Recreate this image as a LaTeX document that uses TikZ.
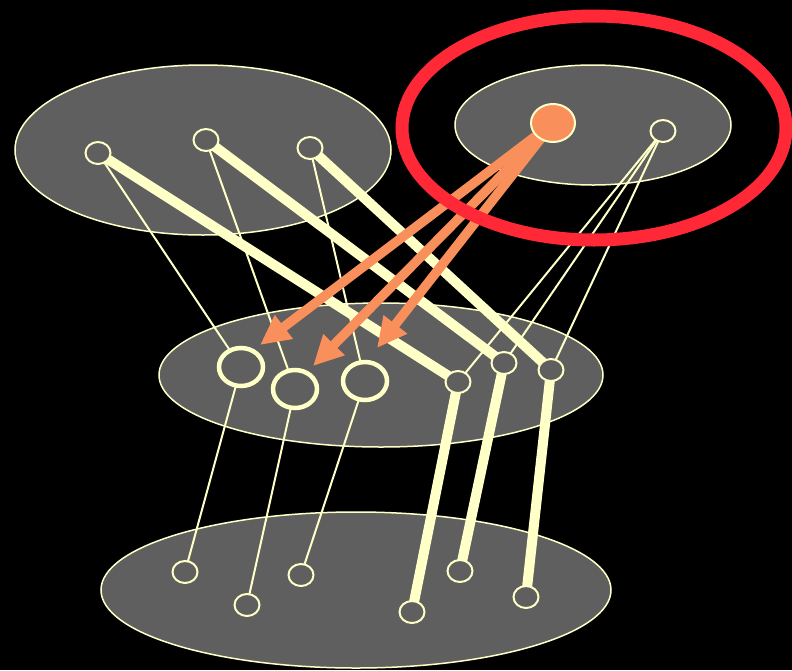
\documentclass[tikz,border=0pt]{standalone}
\usetikzlibrary{arrows.meta}
\definecolor{bggray}{HTML}{5F5F5F}
\definecolor{cream}{HTML}{FFFFC8}
\definecolor{orng}{HTML}{F98F5A}
\definecolor{redring}{HTML}{FF2836}
\tikzset{
  layer/.style={draw=cream, line width=1.5pt, fill=bggray},
  thinln/.style={draw=cream, line width=2pt},
  thickln/.style={draw=cream, line width=10pt},
  arr/.style={draw=orng, line width=9.5pt, -{Triangle[length=30pt,width=28pt]}},
}
\begin{document}
\begin{tikzpicture}[x=1pt,y=-1pt]
\useasboundingbox[fill=black] (0,0) rectangle (792,670);
% layers
\draw[layer] (203,150) ellipse [x radius=188, y radius=85];
\draw[layer] (593,125) ellipse [x radius=138, y radius=60];
\draw[layer] (381,375) ellipse [x radius=222, y radius=72];
\draw[layer] (356,590) ellipse [x radius=255, y radius=78];
% node positions
\coordinate (a1) at (98,153);
\coordinate (a2) at (206,140);
\coordinate (a3) at (310,148);
\coordinate (o) at (553,123);
\coordinate (b) at (663,131);
\coordinate (m1) at (241,367);
\coordinate (m2) at (295,389);
\coordinate (m3) at (365,381);
\coordinate (s1) at (458,382);
\coordinate (s2) at (504,363);
\coordinate (s3) at (551,370);
\coordinate (c1) at (185,572);
\coordinate (c2) at (247,605);
\coordinate (c3) at (301,575);
\coordinate (c4) at (412,612);
\coordinate (c5) at (460,571);
\coordinate (c6) at (526,597);
% connections
\draw[thinln] (a1) -- (m1);
\draw[thinln] (a2) -- (m2);
\draw[thinln] (a3) -- (m3);
\draw[thickln] (a1) -- (s1);
\draw[thickln] (a2) -- (s2);
\draw[thickln] (a3) -- (s3);
\draw[thinln] (b) -- (s1);
\draw[thinln] (b) -- (s2);
\draw[thinln] (b) -- (s3);
\draw[thinln] (m1) -- (c1);
\draw[thinln] (m2) -- (c2);
\draw[thinln] (m3) -- (c3);
\draw[thickln] (s1) -- (c4);
\draw[thickln] (s2) -- (c5);
\draw[thickln] (s3) -- (c6);
% small nodes
\foreach \p in {a1,a2,a3,b,s1,s2,s3,c1,c2,c3,c4,c5,c6}
  \draw[draw=cream, line width=2pt, fill=bggray] (\p) ellipse [x radius=12.5, y radius=11];
\foreach \p in {m1,m2,m3}
  \draw[draw=cream, line width=4.5pt, fill=bggray] (\p) ellipse [x radius=22, y radius=19];
% orange arrows
\coordinate (t1) at (260,345);
\coordinate (t2) at (313,366);
\coordinate (t3) at (377,348);
\draw[arr] (o) -- (t1);
\draw[arr] (o) -- (t2);
\draw[arr] (o) -- (t3);
\draw[draw=cream, line width=2pt, fill=orng] (o) ellipse [x radius=22, y radius=19];
% red ring
\draw[draw=redring, line width=13pt] (594,128) ellipse [x radius=192, y radius=112];
\end{tikzpicture}
\end{document}
